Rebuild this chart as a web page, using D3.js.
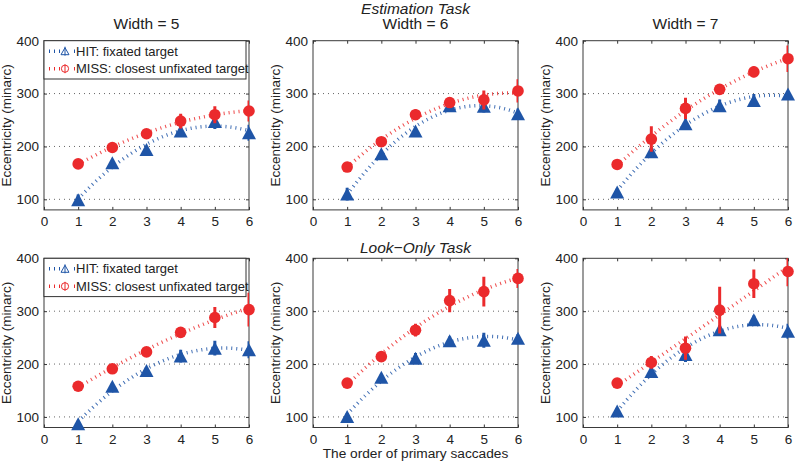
<!DOCTYPE html>
<html>
<head>
<meta charset="utf-8">
<script src="https://cdn.jsdelivr.net/npm/d3@7"></script>
<style>
body { margin: 0; background: #fff; }
text { font-family: "Liberation Sans", Arial, sans-serif; fill: #222; }
</style>
</head>
<body>
<script>
var width = 798, height = 462;

// data (minarc)
var order = [1, 2, 3, 4, 5, 6];
var xTicks = [0, 1, 2, 3, 4, 5, 6];
var yTicks = [100, 200, 300, 400];
var gridTicks = [100, 200, 300];
var widths = ["Width = 5", "Width = 6", "Width = 7"];

var hitEst5 = [99, 169, 194, 229, 247, 226],  hitEst5Err = [10, 6, 6, 8, 14, 15];
var missEst5 = [167, 198, 224, 248, 260, 267], missEst5Err = [5, 6, 8, 14, 16, 20];
var hitEst6 = [110, 186, 229, 277, 276, 262], hitEst6Err = [12, 6, 6, 8, 12, 10];
var missEst6 = [161, 209, 260, 283, 288, 305], missEst6Err = [5, 8, 10, 8, 18, 22];
var hitEst7 = [114, 190, 243, 277, 287, 299], hitEst7Err = [6, 8, 8, 12, 12, 6];
var missEst7 = [166, 214, 272, 308, 341, 366], missEst7Err = [5, 24, 20, 8, 10, 25];
var hitLook5 = [87, 158, 188, 215, 230, 227], hitLook5Err = [6, 6, 6, 12, 14, 16];
var missLook5 = [158, 191, 223, 260, 288, 303], missLook5Err = [5, 6, 6, 6, 20, 32];
var hitLook6 = [101, 175, 211, 244, 245, 249], hitLook6Err = [6, 6, 10, 8, 14, 8];
var missLook6 = [164, 214, 264, 320, 337, 362], missLook6Err = [5, 6, 12, 22, 28, 18];
var hitLook7 = [111, 186, 218, 265, 284, 262], hitLook7Err = [6, 8, 14, 8, 8, 14];
var missLook7 = [164, 203, 230, 302, 352, 375], missLook7Err = [5, 12, 22, 44, 27, 28];

var panels = [
  {hit: hitEst5, hitErr: hitEst5Err, miss: missEst5, missErr: missEst5Err},
  {hit: hitEst6, hitErr: hitEst6Err, miss: missEst6, missErr: missEst6Err},
  {hit: hitEst7, hitErr: hitEst7Err, miss: missEst7, missErr: missEst7Err},
  {hit: hitLook5, hitErr: hitLook5Err, miss: missLook5, missErr: missLook5Err},
  {hit: hitLook6, hitErr: hitLook6Err, miss: missLook6, missErr: missLook6Err},
  {hit: hitLook7, hitErr: hitLook7Err, miss: missLook7, missErr: missLook7Err}
];

var blue = "#1f55a7", red = "#eb2a2c";
var colX = [44, 313, 583], pw = 205;
var rowY = [40.7, 258.3], ph = 169.2;

var svg = d3.select("body").append("svg")
  .attr("width", width)
  .attr("height", height);

// least squares quadratic fit, like the fitted dotted curves in the figure
function quadFit(xs, ys) {
  var s = [0, 0, 0, 0, 0], t = [0, 0, 0];
  xs.forEach(function(x, i) {
    for (var k = 0; k < 5; k++) s[k] += Math.pow(x, k);
    for (var k = 0; k < 3; k++) t[k] += ys[i] * Math.pow(x, k);
  });
  var m = [[s[0], s[1], s[2], t[0]], [s[1], s[2], s[3], t[1]], [s[2], s[3], s[4], t[2]]];
  for (var c = 0; c < 3; c++) {
    for (var r = c + 1; r < 3; r++) {
      var f = m[r][c] / m[c][c];
      for (var k = c; k < 4; k++) m[r][k] -= f * m[c][k];
    }
  }
  var b = [0, 0, 0];
  for (var r = 2; r >= 0; r--) {
    var v = m[r][3];
    for (var k = r + 1; k < 3; k++) v -= m[r][k] * b[k];
    b[r] = v / m[r][r];
  }
  return function(x) { return b[0] + b[1] * x + b[2] * x * x; };
}

function triPath(w, h) {
  return "M0," + (-h / 2) + "L" + (w / 2) + "," + (h / 2) + "L" + (-w / 2) + "," + (h / 2) + "Z";
}

panels.forEach(function(p, i) {
  var col = i % 3, row = Math.floor(i / 3);
  var left = colX[col], top = rowY[row];
  var x = d3.scaleLinear().domain([0, 6]).range([left, left + pw]);
  var y = d3.scaleLinear().domain([80, 400]).range([top + ph, top]);
  var g = svg.append("g");

  g.append("clipPath").attr("id", "clip" + i)
    .append("rect").attr("x", left).attr("y", top).attr("width", pw).attr("height", ph);

  // dotted grid
  g.selectAll(".grid").data(gridTicks).enter().append("line")
    .attr("x1", left).attr("x2", left + pw)
    .attr("y1", function(d) { return y(d); }).attr("y2", function(d) { return y(d); })
    .attr("stroke", "#666").attr("stroke-width", 1).attr("stroke-dasharray", "1,4");

  // axes with inward ticks
  g.append("g").attr("transform", "translate(0," + (top + ph) + ")")
    .call(d3.axisBottom(x).tickValues(xTicks).tickFormat(d3.format("d"))
      .tickSize(-3).tickSizeOuter(0).tickPadding(6.5));
  g.append("g").attr("transform", "translate(0," + top + ")")
    .call(d3.axisTop(x).tickValues(xTicks).tickSize(-3).tickSizeOuter(0).tickFormat(""));
  g.append("g").attr("transform", "translate(" + left + ",0)")
    .call(d3.axisLeft(y).tickValues(yTicks).tickFormat(d3.format("d"))
      .tickSize(-3).tickSizeOuter(0).tickPadding(5));
  g.append("g").attr("transform", "translate(" + (left + pw) + ",0)")
    .call(d3.axisRight(y).tickValues(yTicks).tickSize(-3).tickSizeOuter(0).tickFormat(""));
  g.selectAll(".domain").remove();
  g.selectAll(".tick line").attr("stroke", "#333");
  g.selectAll(".tick text").style("font-size", "13.5px").attr("fill", "#222")
    .style("font-family", "'Liberation Sans', Arial, sans-serif");

  g.append("rect").attr("x", left).attr("y", top).attr("width", pw).attr("height", ph)
    .attr("fill", "none").attr("stroke", "#3a3a3a").attr("stroke-width", 1);

  g.append("text")
    .attr("transform", "translate(" + (left - 33) + "," + (top + ph / 2) + ") rotate(-90)")
    .attr("text-anchor", "middle").style("font-size", "13.5px")
    .text("Eccentricity (minarc)");

  var series = [
    {vals: p.hit, err: p.hitErr, color: blue, shape: "tri"},
    {vals: p.miss, err: p.missErr, color: red, shape: "circ"}
  ];

  // fitted dotted curves
  series.forEach(function(s) {
    var fit = quadFit(order, s.vals);
    var xs = d3.range(1, 6.001, 0.05);
    g.append("path")
      .attr("clip-path", "url(#clip" + i + ")")
      .attr("d", d3.line().x(function(d) { return x(d); }).y(function(d) { return y(fit(d)); })(xs))
      .attr("fill", "none").attr("stroke", s.color).attr("stroke-width", 3.5)
      .attr("stroke-dasharray", "1,4").attr("opacity", 0.85);
  });

  series.forEach(function(s) {
    g.selectAll(null).data(s.vals).enter().append("line")
      .attr("clip-path", "url(#clip" + i + ")")
      .attr("x1", function(d, j) { return x(order[j]); })
      .attr("x2", function(d, j) { return x(order[j]); })
      .attr("y1", function(d, j) { return y(d - s.err[j]); })
      .attr("y2", function(d, j) { return y(d + s.err[j]); })
      .attr("stroke", s.color).attr("stroke-width", 3);
    if (s.shape == "tri") {
      g.selectAll(null).data(s.vals).enter().append("path")
        .attr("d", triPath(14, 13))
        .attr("transform", function(d, j) { return "translate(" + x(order[j]) + "," + y(d) + ")"; })
        .attr("fill", s.color);
    } else {
      g.selectAll(null).data(s.vals).enter().append("circle")
        .attr("cx", function(d, j) { return x(order[j]); })
        .attr("cy", function(d) { return y(d); })
        .attr("r", 5.8)
        .attr("fill", s.color);
    }
  });

  if (row == 0) {
    g.append("text").attr("x", left + pw / 2).attr("y", 29)
      .attr("text-anchor", "middle").style("font-size", "15.5px")
      .text(widths[col]);
  }

  // legend in the first column
  if (col == 0) {
    var lg = g.append("g");
    lg.append("rect").attr("x", left).attr("y", top).attr("width", 202).attr("height", 38.3)
      .attr("fill", "#fff").attr("stroke", "#333").attr("stroke-width", 1);
    var items = [
      {label: "HIT: fixated target", color: blue, shape: "tri"},
      {label: "MISS: closest unfixated target", color: red, shape: "circ"}
    ];
    items.forEach(function(it, k) {
      var cy = top + 10.5 + k * 17.5;
      lg.append("line").attr("x1", left + 5).attr("x2", left + 31).attr("y1", cy).attr("y2", cy)
        .attr("stroke", it.color).attr("stroke-width", 3.5).attr("stroke-dasharray", "1,4");
      lg.append("rect").attr("x", left + 16).attr("y", cy - 5).attr("width", 10).attr("height", 10).attr("fill", "#fff");
      lg.append("line").attr("x1", left + 21).attr("x2", left + 21).attr("y1", cy - 4.5).attr("y2", cy + 4.5)
        .attr("stroke", it.color).attr("stroke-width", 1);
      if (it.shape == "tri") {
        lg.append("path").attr("d", triPath(8, 7)).attr("transform", "translate(" + (left + 21) + "," + cy + ")")
          .attr("fill", "none").attr("stroke", it.color).attr("stroke-width", 1);
      } else {
        lg.append("circle").attr("cx", left + 21).attr("cy", cy).attr("r", 3.6)
          .attr("fill", "none").attr("stroke", it.color).attr("stroke-width", 1);
      }
      lg.append("text").attr("x", left + 32).attr("y", cy + 4.6).style("font-size", "13px").text(it.label);
    });
  }
});

svg.append("text").attr("x", colX[1] + pw / 2).attr("y", 13.5)
  .attr("text-anchor", "middle").style("font-size", "15.5px").style("font-style", "italic")
  .text("Estimation Task");
svg.append("text").attr("x", colX[1] + pw / 2).attr("y", 252.5)
  .attr("text-anchor", "middle").style("font-size", "15.5px").style("font-style", "italic")
  .text("Look\u2212Only Task");
svg.append("text").attr("x", colX[1] + pw / 2).attr("y", 458)
  .attr("text-anchor", "middle").style("font-size", "13.7px")
  .text("The order of primary saccades");
</script>
</body>
</html>
